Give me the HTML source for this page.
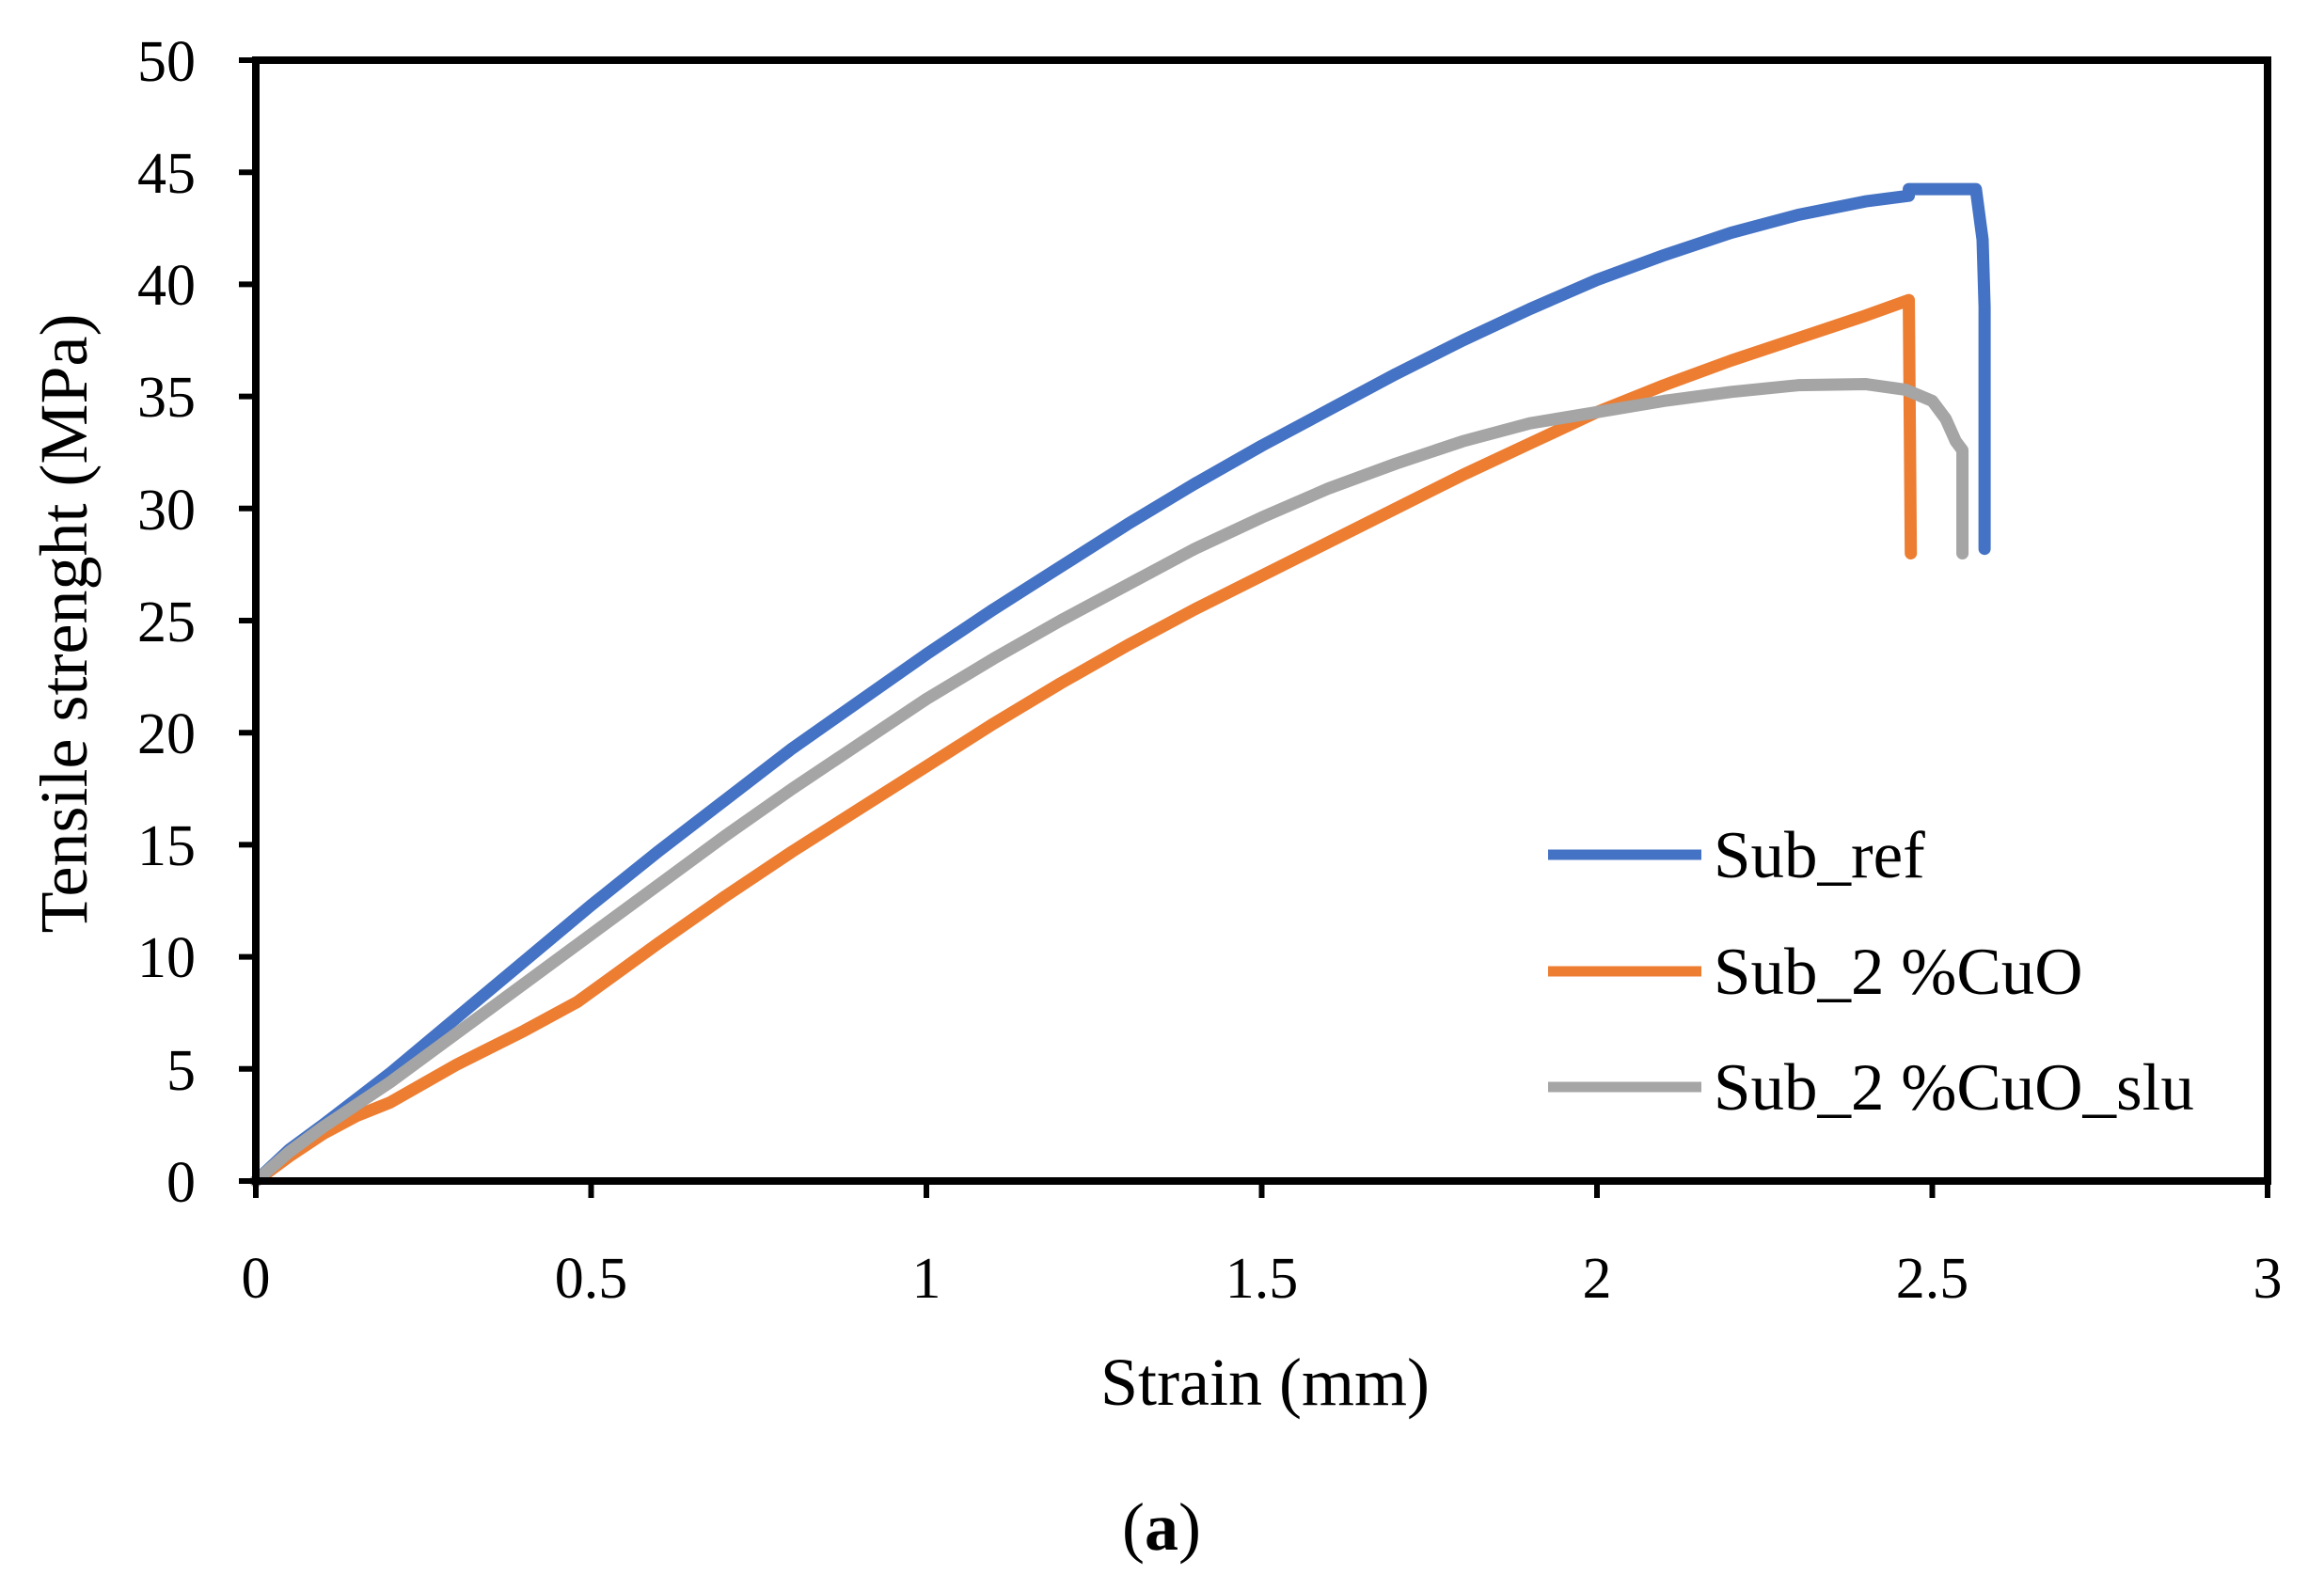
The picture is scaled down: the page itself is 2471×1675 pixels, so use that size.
<!DOCTYPE html>
<html><head><meta charset="utf-8"><style>
html,body{margin:0;padding:0;background:#fff;}
svg{display:block;}
text{font-family:"Liberation Serif",serif;fill:#000;}
</style></head><body>
<svg width="2471" height="1675" viewBox="0 0 2471 1675" xmlns="http://www.w3.org/2000/svg">
<rect width="2471" height="1675" fill="#fff"/>
<g transform="translate(272,1256) scale(713,-23.84)" fill="none" stroke-linejoin="round" stroke-linecap="round">
<polyline vector-effect="non-scaling-stroke" stroke="#4472C4" stroke-width="13" points="0,0 0.05,1.4 0.1,2.5 0.2,4.8 0.3,7.3 0.4,9.8 0.5,12.3 0.6,14.7 0.7,17.0 0.8,19.3 0.9,21.4 1.0,23.5 1.1,25.5 1.2,27.4 1.3,29.3 1.4,31.1 1.5,32.8 1.6,34.4 1.7,36.0 1.8,37.5 1.9,38.9 2.0,40.2 2.1,41.3 2.2,42.3 2.3,43.1 2.4,43.7 2.465,43.95 2.465,44.25 2.565,44.25 2.575,42 2.578,39 2.578,28.2"/>
<polyline vector-effect="non-scaling-stroke" stroke="#ED7D31" stroke-width="13" points="0,0 0.05,1.1 0.1,2.1 0.15,2.9 0.2,3.5 0.3,5.2 0.4,6.7 0.48,8.0 0.6,10.6 0.7,12.7 0.8,14.7 0.9,16.6 1.0,18.5 1.1,20.4 1.2,22.2 1.3,23.9 1.4,25.5 1.5,27.0 1.6,28.5 1.7,30.0 1.8,31.5 1.9,32.9 2.0,34.3 2.1,35.5 2.2,36.6 2.3,37.6 2.4,38.6 2.465,39.3 2.468,28"/>
<polyline vector-effect="non-scaling-stroke" stroke="#A5A5A5" stroke-width="13" points="0,0 0.05,1.3 0.1,2.4 0.2,4.4 0.3,6.6 0.4,8.8 0.5,11.0 0.6,13.2 0.7,15.4 0.8,17.5 0.9,19.5 1.0,21.5 1.1,23.3 1.2,25.0 1.3,26.6 1.4,28.2 1.5,29.6 1.6,30.9 1.7,32.0 1.8,33.0 1.9,33.8 2.0,34.3 2.1,34.8 2.2,35.2 2.3,35.5 2.4,35.55 2.46,35.3 2.5,34.8 2.52,34.0 2.535,33.0 2.545,32.6 2.545,28"/>
</g>
<rect x="272" y="64" width="2139" height="1192" fill="none" stroke="#000" stroke-width="8"/>
<g stroke="#000" stroke-width="6">
<line x1="254" y1="64" x2="272" y2="64"/><line x1="254" y1="183.2" x2="272" y2="183.2"/>
<line x1="254" y1="302.4" x2="272" y2="302.4"/><line x1="254" y1="421.6" x2="272" y2="421.6"/>
<line x1="254" y1="540.8" x2="272" y2="540.8"/><line x1="254" y1="660" x2="272" y2="660"/>
<line x1="254" y1="779.2" x2="272" y2="779.2"/><line x1="254" y1="898.4" x2="272" y2="898.4"/>
<line x1="254" y1="1017.6" x2="272" y2="1017.6"/><line x1="254" y1="1136.8" x2="272" y2="1136.8"/>
<line x1="254" y1="1256" x2="272" y2="1256"/>
<line x1="272" y1="1256" x2="272" y2="1274"/><line x1="628.5" y1="1256" x2="628.5" y2="1274"/>
<line x1="985" y1="1256" x2="985" y2="1274"/><line x1="1341.5" y1="1256" x2="1341.5" y2="1274"/>
<line x1="1698" y1="1256" x2="1698" y2="1274"/><line x1="2054.5" y1="1256" x2="2054.5" y2="1274"/>
<line x1="2411" y1="1256" x2="2411" y2="1274"/>
</g>
<g font-size="62" text-anchor="end">
<text x="208" y="86">50</text><text x="208" y="205">45</text><text x="208" y="324">40</text>
<text x="208" y="443">35</text><text x="208" y="563">30</text><text x="208" y="682">25</text>
<text x="208" y="801">20</text><text x="208" y="920">15</text><text x="208" y="1039">10</text>
<text x="208" y="1159">5</text><text x="208" y="1278">0</text>
</g>
<g font-size="62" text-anchor="middle">
<text x="272" y="1380">0</text><text x="628.5" y="1380">0.5</text><text x="985" y="1380">1</text>
<text x="1341.5" y="1380">1.5</text><text x="1698" y="1380">2</text><text x="2054.5" y="1380">2.5</text>
<text x="2411" y="1380">3</text>
</g>
<text x="1345" y="1494" font-size="72" text-anchor="middle">Strain (mm)</text>
<text transform="translate(92,663) rotate(-90)" font-size="72" text-anchor="middle">Tensile strenght (MPa)</text>
<text x="1235" y="1648" font-size="72" text-anchor="middle">(<tspan font-weight="bold">a</tspan>)</text>
<g stroke-width="11">
<line x1="1646" y1="909" x2="1809" y2="909" stroke="#4472C4"/>
<line x1="1646" y1="1033" x2="1809" y2="1033" stroke="#ED7D31"/>
<line x1="1646" y1="1156" x2="1809" y2="1156" stroke="#A5A5A5"/>
</g>
<g font-size="71">
<text x="1822" y="933">Sub_ref</text>
<text x="1822" y="1057">Sub_2 %CuO</text>
<text x="1822" y="1180">Sub_2 %CuO_slu</text>
</g>
</svg>
</body></html>
